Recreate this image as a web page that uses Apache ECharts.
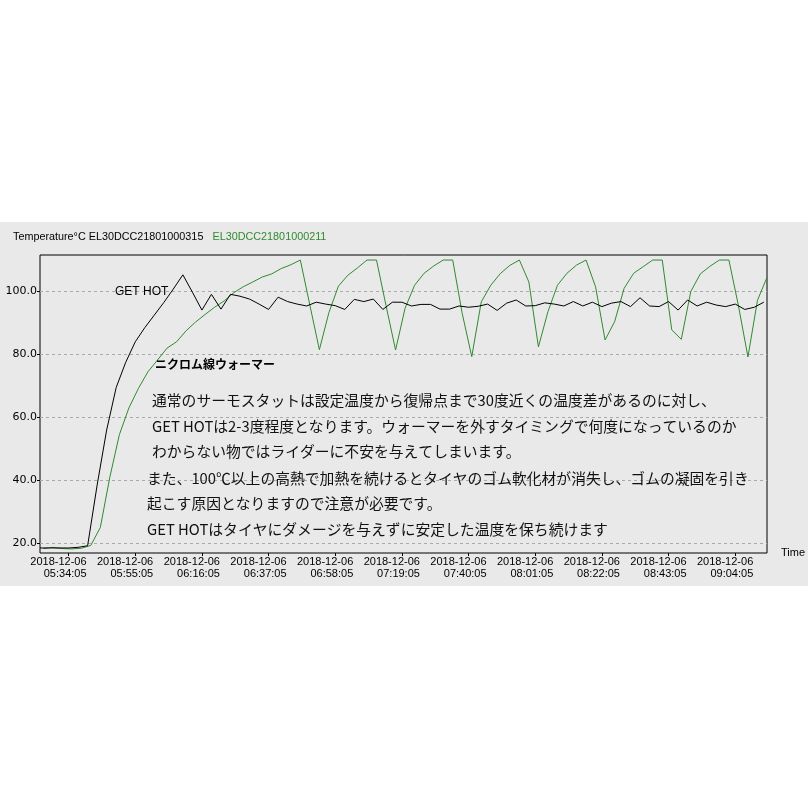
<!DOCTYPE html>
<html>
<head>
<meta charset="utf-8">
<script src="https://cdn.jsdelivr.net/npm/echarts@6/dist/echarts.min.js"></script>
<style>
html,body{margin:0;padding:0;background:#fff;}
#band{position:absolute;left:0;top:222px;width:808px;height:364px;background:#e9e9e9;}
#chart{position:absolute;left:0;top:0;width:808px;height:808px;}
</style>
</head>
<body>
<div id="band"></div>
<div id="chart"></div>
<script>
// ---- data ----
const tickMinutes = [0, 21, 42, 63, 84, 105, 126, 147, 168, 189, 210];
const tickDate = '2018-12-06';
const tickTimes = ['05:34:05','05:55:05','06:16:05','06:37:05','06:58:05','07:19:05','07:40:05','08:01:05','08:22:05','08:43:05','09:04:05'];
const yTicks = [20, 40, 60, 80, 100];

// minutes relative to 05:34:05
const getHotMinutes = [-9,-6,-3,0,3,6,9,12,15,18,21,24,27,30,33,36,39,42,45,48,51,54,57,60,63,66,69,72,75,78,81,84,87,90,93,96,99,102,105,108,111,114,117,120,123,126,129,132,135,138,141,144,147,150,153,156,159,162,165,168,171,174,177,180,183,186,189,192,195,198,201,204,207,210,213,216,219];
const getHotValues = [
 18.5,18.5,18.5,18.5,18.7,
 19.2,38.5,56,69.5,77.5,
 84,88.5,92.5,96.5,100.8,
 105.3,99.8,94.1,99.1,94.4,
 99.1,98.5,97.6,96.0,94.3,
 98.2,96.8,96.0,95.4,96.6,
 96.0,95.5,94.3,97.5,96.8,
 97.6,94.3,96.6,96.6,95.4,
 95.9,95.9,94.4,94.4,95.4,
 95.0,95.3,96.0,94.0,96.3,
 97.3,95.4,95.5,96.4,96.0,
 95.4,96.8,95.4,96.6,95.2,
 96.3,96.8,95.2,98.0,95.4,
 95.2,96.8,94.1,97.3,95.4,
 96.6,95.7,95.2,96.0,94.3,
 95.0,96.6];

const warmerMinutes = [-8,-5,-2,1,4,7,10,13,16,19,22,25,28,31,34,37,40,43,46,49,52,55,58,61,64,67,70,73,76,79,82,85,88,91,94,97,100,103,106,109,112,115,118,121,124,127,130,133,136,139,142,145,148,151,154,157,160,163,166,169,172,175,178,181,184,187,190,193,196,199,202,205,208,211,214,217,220];
const warmerValues = [
 18.3,18.7,18.3,18.2,18.4,
 19.3,25,41,54.5,63,
 69.2,74.5,78.2,82,84,
 87.5,90.3,92.7,95,97,
 99.6,101.5,103,104.6,105.6,
 107.3,108.5,110,95.7,81.5,
 93.3,101.7,105.2,107.5,110,
 110,95.5,81.4,94.7,102,
 105.8,108.1,110,110,93,
 79.3,96.7,102,105.7,108.3,
 110,103,82.4,93.6,102,
 105.8,108.4,110,101.5,84.6,
 90.4,101,105.8,107.9,110,
 110,87.8,84.8,100,105.6,
 108,110,110,95.5,79.2,
 97.2,104.5];

const titleBlack = 'Temperature°C EL30DCC21801000315';
const titleGreen = 'EL30DCC21801000211';
const seriesNames = ['GET HOT', 'ニクロム線ウォーマー'];
const noteLines = [
 '通常のサーモスタットは設定温度から復帰点まで30度近くの温度差があるのに対し、',
 'GET HOTは2-3度程度となります。ウォーマーを外すタイミングで何度になっているのか',
 'わからない物ではライダーに不安を与えてしまいます。',
 'また、100℃以上の高熱で加熱を続けるとタイヤのゴム軟化材が消失し、ゴムの凝固を引き',
 '起こす原因となりますので注意が必要です。',
 'GET HOTはタイヤにダメージを与えずに安定した温度を保ち続けます'
];

// ---- chart ----
const GREEN = '#2f8a2f';
const LAT = '"Liberation Sans", Arial, sans-serif';
const WIDE = '"DejaVu Sans", Verdana, sans-serif';
const CJK = '"Noto Sans CJK JP", "Noto Sans", sans-serif';
const zip = (xs, ys) => xs.map((x, i) => [x, ys[i]]);

const chart = echarts.init(document.getElementById('chart'), null, {renderer: 'canvas'});
const noteX = [152, 152, 152, 147, 147, 147];
const noteY = [400.5, 426.5, 451.5, 478, 503, 529];

const graphics = [
  {type: 'text', x: 13, y: 237, style: {text: titleBlack, fill: '#000', font: '10.8px ' + LAT, verticalAlign: 'middle'}},
  {type: 'text', x: 212.5, y: 237, style: {text: titleGreen, fill: GREEN, font: '10.8px ' + LAT, verticalAlign: 'middle'}},
  {type: 'text', x: 115, y: 292, z: 10, style: {text: seriesNames[0], fill: '#000', font: '12px ' + LAT, verticalAlign: 'middle'}},
  {type: 'text', x: 155, y: 364, z: 10, style: {text: seriesNames[1], fill: '#000', font: 'bold 12px ' + CJK, verticalAlign: 'middle'}}
];
noteLines.forEach((t, i) => {
  graphics.push({type: 'text', x: noteX[i], y: noteY[i], z: 10,
    style: {text: t, fill: '#111', font: '14.8px ' + CJK, verticalAlign: 'middle'}});
});

chart.setOption({
  backgroundColor: 'transparent',
  animation: false,
  grid: {left: 40, right: 41, top: 255, bottom: 255, show: true, borderColor: '#000', borderWidth: 1, backgroundColor: 'transparent'},
  xAxis: {
    type: 'value', min: -9, max: 220,
    name: 'Time', nameLocation: 'end', nameGap: 14,
    nameTextStyle: {color: '#000', fontFamily: LAT, fontSize: 11, verticalAlign: 'middle', padding: [4, 0, 0, 0]},
    axisLine: {show: false, onZero: false},
    axisTick: {show: true, length: 3, customValues: tickMinutes, lineStyle: {color: '#000'}},
    splitLine: {show: false},
    axisLabel: {
      customValues: tickMinutes, margin: 3, color: '#000',
      padding: [0, 20, 0, 0],
      formatter: function (v) {
        const k = tickMinutes.indexOf(v);
        return '{a|' + tickDate + '}\n{a|' + tickTimes[k] + '}';
      },
      rich: {a: {width: 56, align: 'right', fontFamily: LAT, fontSize: 11, lineHeight: 12, color: '#000'}}
    }
  },
  yAxis: {
    type: 'value', min: 16.9, max: 111.6,
    axisLine: {show: false, onZero: false},
    axisTick: {show: true, length: 3, customValues: yTicks, lineStyle: {color: '#000'}},
    axisLabel: {customValues: yTicks, margin: 3, color: '#000', fontFamily: WIDE, fontSize: 11,
      formatter: v => v.toFixed(1)},
    splitLine: {show: true, lineStyle: {color: '#aaaaaa', type: [3, 3], width: 1}}
  },
  graphic: graphics,
  series: [
    {name: seriesNames[0], type: 'line', data: zip(getHotMinutes, getHotValues), showSymbol: false, symbol: 'none',
      lineStyle: {color: '#000', width: 1}, itemStyle: {color: '#000'}, z: 3},
    {name: seriesNames[1], type: 'line', data: zip(warmerMinutes, warmerValues), showSymbol: false, symbol: 'none',
      lineStyle: {color: GREEN, width: 1}, itemStyle: {color: GREEN}, z: 2}
  ]
});
</script>
</body>
</html>
